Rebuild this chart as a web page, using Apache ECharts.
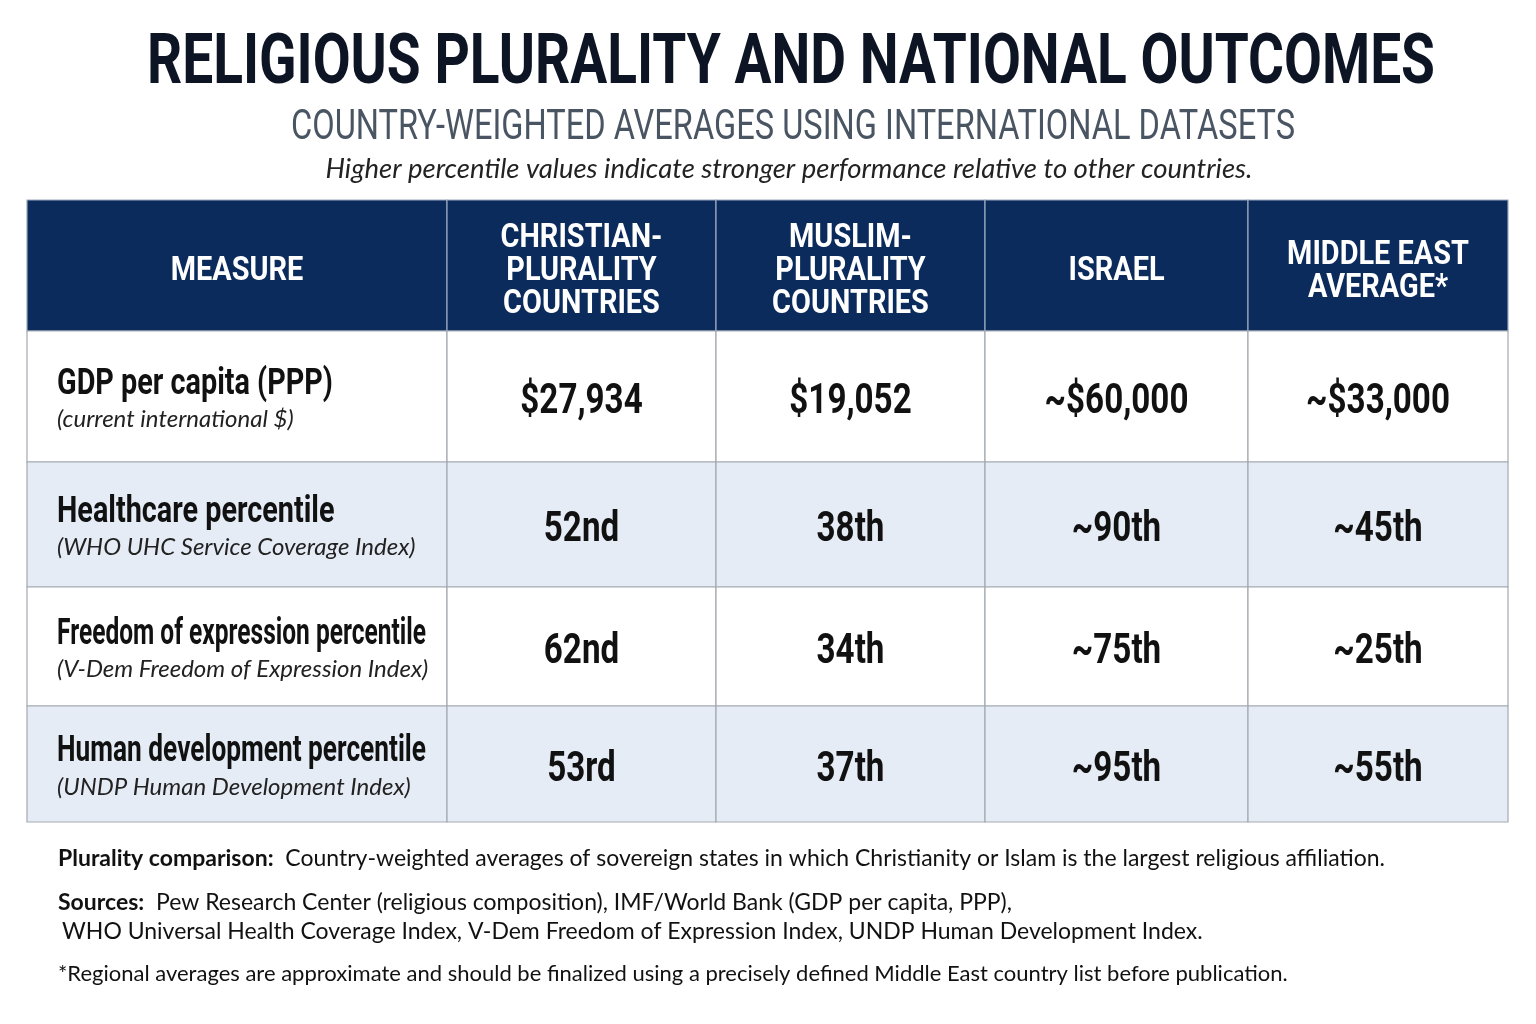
<!DOCTYPE html>
<html>
<head>
<meta charset="utf-8">
<title>Religious plurality and national outcomes</title>
<script src="https://cdn.jsdelivr.net/npm/echarts@6/dist/echarts.min.js"></script>
<style>
  html, body { margin: 0; padding: 0; background: #fff; }
  #main { width: 1536px; height: 1024px; }
</style>
</head>
<body>
<div id="main"></div>
<script>
// table content
var columns = ['MEASURE', 'CHRISTIAN-\nPLURALITY\nCOUNTRIES', 'MUSLIM-\nPLURALITY\nCOUNTRIES', 'ISRAEL', 'MIDDLE EAST\nAVERAGE*'];
var measures = ['GDP per capita (PPP)', 'Healthcare percentile', 'Freedom of expression percentile', 'Human development percentile'];
var measureNotes = ['(current international $)', '(WHO UHC Service Coverage Index)', '(V-Dem Freedom of Expression Index)', '(UNDP Human Development Index)'];
var christian = ['$27,934', '52nd', '62nd', '53rd'];
var muslim = ['$19,052', '38th', '34th', '37th'];
var israel = ['~$60,000', '~90th', '~75th', '~95th'];
var middleEast = ['~$33,000', '~45th', '~25th', '~55th'];

// layout (relative column widths / row heights)
var colW = [420, 269, 269, 263, 260];
var rowH = [131, 131, 125, 119, 116];
var bold = 'Roboto';
var body = "'Lato', 'Open Sans', sans-serif";
var navy = '#0b2b5c';

// no condensed face installed, so headline text is squeezed with scaleX
var ctx = document.createElement('canvas').getContext('2d');
function textWidth(t, font) { ctx.font = font; return ctx.measureText(t).width; }

function sum(a, n) { var s = 0; for (var i = 0; i < n; i++) s += a[i]; return s; }

function condText(t, x, y, size, sx, opt) {
  opt = opt || {};
  return {
    type: 'text', x: x, y: y, scaleX: sx,
    style: {
      text: t, x: 0, y: 0, align: opt.align || 'center', verticalAlign: 'middle',
      fontFamily: bold, fontWeight: opt.weight || 'bold', fontSize: size,
      lineHeight: opt.lineHeight, fill: opt.fill || '#111111'
    }
  };
}

var cells = [];
for (var c = 0; c < columns.length; c++) cells.push([c, 0, columns[c]]);
var valueCols = [christian, muslim, israel, middleEast];
for (var r = 0; r < measures.length; r++) {
  cells.push([0, r + 1, measures[r]]);
  for (var k = 0; k < valueCols.length; k++) cells.push([k + 1, r + 1, valueCols[k][r]]);
}

function renderCell(params, api) {
  var c = api.value(0), r = api.value(1);
  var d = cells[params.dataIndex];
  var p0 = api.coord([sum(colW, c), sum(rowH, r)]);
  var p1 = api.coord([sum(colW, c + 1), sum(rowH, r + 1)]);
  var x = p0[0], y = p0[1], w = p1[0] - p0[0], h = p1[1] - p0[1];
  var fill = r === 0 ? navy : (r % 2 === 0 ? '#e5ecf5' : '#ffffff');
  var children = [{
    type: 'rect',
    shape: { x: x, y: y, width: w, height: h },
    style: { fill: fill, stroke: r === 0 ? '#9aa8bd' : '#a3a9b1', lineWidth: 1.2 }
  }];
  if (r === 0) {
    children.push(condText(d[2], x + w / 2, y + h / 2 + 6, 34, 0.85, { fill: '#ffffff', lineHeight: 33 }));
  } else if (c === 0) {
    var lw = textWidth(d[2], 'bold 36px Roboto');
    var sx = Math.min(0.8, 369 / lw);
    children.push(condText(d[2], x + 30, y + h / 2 - 12, 36, sx, { align: 'left' }));
    children.push({
      type: 'text',
      style: {
        text: measureNotes[r - 1], x: x + 30, y: y + h / 2 + 23, align: 'left', verticalAlign: 'middle',
        fill: '#222222', fontFamily: body, fontStyle: 'italic', fontSize: 24
      }
    });
  } else {
    children.push(condText(d[2], x + w / 2, y + h / 2 + 6, 42, 0.79));
  }
  return { type: 'group', children: children };
}

var title = 'RELIGIOUS PLURALITY AND NATIONAL OUTCOMES';
var subtitle = 'COUNTRY-WEIGHTED AVERAGES USING INTERNATIONAL DATASETS';
var titleScale = 1288 / textWidth(title, 'bold 70px Roboto');
var subScale = 1004 / textWidth(subtitle, 'normal 42px Roboto');

var chart = echarts.init(document.getElementById('main'));
chart.setOption({
  backgroundColor: '#ffffff',
  animation: false,
  grid: { left: 27, right: 28, top: 200, height: 622 },
  xAxis: { type: 'value', min: 0, max: sum(colW, colW.length), show: false },
  yAxis: { type: 'value', min: 0, max: sum(rowH, rowH.length), inverse: true, show: false },
  series: [{
    type: 'custom',
    renderItem: renderCell,
    data: cells.map(function (d) { return [d[0], d[1]]; })
  }],
  graphic: [
    condText(title, 791, 65, 70, titleScale, { fill: '#0d1424' }),
    condText(subtitle, 793, 128, 42, subScale, { fill: '#4a5563', weight: 'normal' }),
  {
    type: 'text', x: 789, y: 169,
    style: {
      text: 'Higher percentile values indicate stronger performance relative to other countries.',
      x: 0, y: 0, align: 'center', verticalAlign: 'middle',
      fontFamily: body, fontStyle: 'italic', fontSize: 27.5, fill: '#222222'
    }
  }, {
    type: 'text', x: 58, y: 859,
    style: {
      text: '{b|Plurality comparison:}  Country-weighted averages of sovereign states in which Christianity or Islam is the largest religious affiliation.',
      x: 0, y: 0, verticalAlign: 'middle',
      fontFamily: body, fontSize: 23, fill: '#111111',
      rich: { b: { fontFamily: body, fontWeight: 'bold', fontSize: 23, fill: '#111111' } }
    }
  }, {
    type: 'text', x: 58, y: 903,
    style: {
      text: '{b|Sources:}  Pew Research Center (religious composition), IMF/World Bank (GDP per capita, PPP),',
      x: 0, y: 0, verticalAlign: 'middle',
      fontFamily: body, fontSize: 23, fill: '#111111',
      rich: { b: { fontFamily: body, fontWeight: 'bold', fontSize: 23, fill: '#111111' } }
    }
  }, {
    type: 'text', x: 62, y: 932,
    style: {
      text: 'WHO Universal Health Coverage Index, V-Dem Freedom of Expression Index, UNDP Human Development Index.',
      x: 0, y: 0, verticalAlign: 'middle',
      fontFamily: body, fontSize: 23, fill: '#111111'
    }
  }, {
    type: 'text', x: 58, y: 974,
    style: {
      text: '*Regional averages are approximate and should be finalized using a precisely defined Middle East country list before publication.',
      x: 0, y: 0, verticalAlign: 'middle',
      fontFamily: body, fontSize: 22, fill: '#111111'
    }
  }]
});
</script>
</body>
</html>
